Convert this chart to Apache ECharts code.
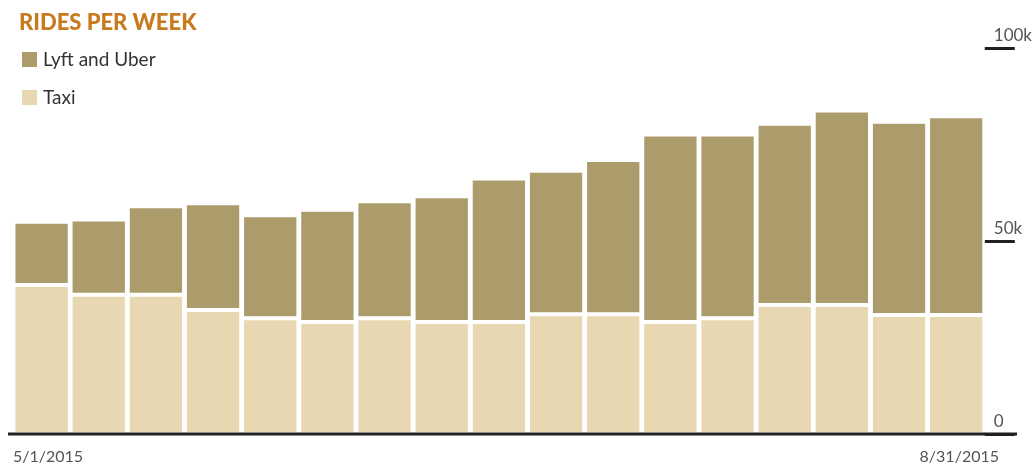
<!DOCTYPE html>
<html>
<head>
<meta charset="utf-8">
<script src="https://cdn.jsdelivr.net/npm/echarts@6/dist/echarts.min.js"></script>
<style>
html,body{margin:0;padding:0;background:#fff;}
#chart{width:1035px;height:472px;}
</style>
</head>
<body>
<div id="chart"></div>
<script>
// ---- data ----
var weeks = ['5/1/2015','5/8/2015','5/15/2015','5/22/2015','5/29/2015','6/5/2015','6/12/2015','6/19/2015','6/26/2015','7/3/2015','7/10/2015','7/17/2015','7/24/2015','7/31/2015','8/7/2015','8/14/2015','8/21/2015'];
var taxi = [38600,36100,36100,32100,30000,29000,30000,29000,29000,31000,31000,29000,30000,33400,33400,30800,30800];
var lyftUber = [16400,19500,22900,27700,26700,29100,30300,32600,37200,37200,40000,48600,47600,47000,50400,50100,51500];
var yTicks = [0, 50000, 100000];
var yTickLabels = ['0', '50k', '100k'];
var xEndLabels = ['5/1/2015', '8/31/2015'];
var titleText = 'RIDES PER WEEK';

var chart = echarts.init(document.getElementById('chart'), null, {renderer: 'canvas'});
var option = {
  animation: false,
  backgroundColor: '#ffffff',
  title: {
    text: titleText,
    left: 14, top: 7,
    textStyle: {fontFamily: 'Lato', fontWeight: 900, fontSize: 22, color: '#c87a1e'}
  },
  legend: {
    orient: 'vertical',
    left: 15, top: 45,
    itemWidth: 17, itemHeight: 17, itemGap: 19,
    icon: 'rect',
    data: ['Lyft and Uber', 'Taxi'],
    textStyle: {fontFamily: 'Lato', fontSize: 19, color: '#333333', lineHeight: 17}
  },
  grid: {left: 13, right: 48, top: 48, bottom: 38, containLabel: false},
  xAxis: {
    type: 'category',
    data: weeks,
    axisLine: {show: false},
    axisTick: {show: false},
    axisLabel: {show: false}
  },
  yAxis: {
    type: 'value',
    position: 'right',
    min: 0, max: 100000, interval: 50000,
    splitLine: {show: false},
    axisLine: {show: false},
    axisTick: {show: true, length: 30, lineStyle: {color: '#231f20', width: 3}},
    axisLabel: {
      margin: 9,
      fontFamily: 'Lato', fontSize: 17, color: '#555555',
      verticalAlign: 'bottom', padding: [0,0,4,0],
      formatter: function (v) { var i = yTicks.indexOf(v); return i >= 0 ? yTickLabels[i] : ''; }
    }
  },
  series: [
    {
      name: 'Taxi', type: 'bar', stack: 'rides',
      data: taxi, barCategoryGap: '1.5%',
      itemStyle: {color: '#e7d8b2', borderColor: '#ffffff', borderWidth: 2}
    },
    {
      name: 'Lyft and Uber', type: 'bar', stack: 'rides',
      data: lyftUber, barCategoryGap: '1.5%',
      itemStyle: {color: '#ac9c6c', borderColor: '#ffffff', borderWidth: 2}
    }
  ]
};
chart.setOption(option);

var baseY = chart.convertToPixel({yAxisIndex: 0}, 0);
chart.setOption({
  graphic: [
    {type: 'line', z: 100, shape: {x1: 8, y1: baseY, x2: 1017, y2: baseY}, style: {stroke: '#231f20', lineWidth: 3}},
    {type: 'text', left: 13, top: 449, style: {text: xEndLabels[0], font: '16px Lato', fill: '#555555'}},
    {type: 'text', right: 36, top: 449, style: {text: xEndLabels[1], font: '16px Lato', fill: '#555555'}}
  ]
});
</script>
</body>
</html>
